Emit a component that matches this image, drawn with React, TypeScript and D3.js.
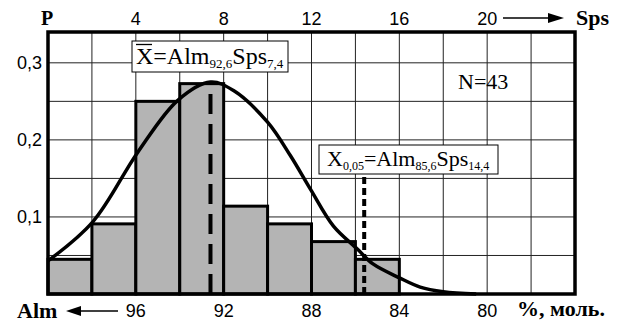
import React from "react";
import * as d3 from "d3";

// Histogram bins (Sps, 2-unit classes) and relative frequencies P
const binStart = [0, 2, 4, 6, 8, 10, 12, 14];
const binP = [0.045, 0.091, 0.25, 0.273, 0.114, 0.091, 0.068, 0.045];
const binWidth = 2;

// Fitted curve
const curveSps = [0, 2.05, 4.09, 5.9, 7.4, 8.45, 10, 11.05, 11.95, 13, 14.1, 14.8, 16, 16.95, 18, 19.5];
const curveP = [0.043, 0.094, 0.184, 0.251, 0.275, 0.264, 0.223, 0.179, 0.136, 0.088, 0.058, 0.039, 0.021, 0.009, 0.003, 0.0];

const topTicks = [4, 8, 12, 16, 20];
const bottomTicks = [96, 92, 88, 84, 80];
const yTicks = [0.1, 0.2, 0.3];
const yTickLabels = ["0,1", "0,2", "0,3"];
const gridX = d3.range(0, 25, 2);
const gridY = [0.05, 0.1, 0.15, 0.2, 0.25, 0.3];

const meanSps = 7.4;
const x005Sps = 14.4;
const nLabel = "N=43";

const SANS = "'Liberation Sans', Arial, sans-serif";
const SERIF = "'Liberation Serif', 'Times New Roman', serif";

export default function App() {
  const left = 48, right = 575, top = 32, bottom = 294;
  const x = d3.scaleLinear().domain([0, 24]).range([left, right]);
  const y = d3.scaleLinear().domain([0, 0.34]).range([bottom, top]);
  const line = d3
    .line<number>()
    .x((_, i) => x(curveSps[i]))
    .y((_, i) => y(curveP[i]))
    .curve(d3.curveCatmullRom.alpha(0.5));
  const curvePath = line(curveP) || "";
  const meanTop = y(0.275);

  return (
    <svg
      width={622}
      height={324}
      style={{ position: "absolute", left: 0, top: 0, background: "#fff" }}
    >
      <rect x={0} y={0} width={622} height={324} fill="#fff" />
      {/* grid */}
      {gridX.map((g) => (
        <line key={"gx" + g} x1={x(g)} x2={x(g)} y1={top} y2={bottom} stroke="#222" strokeWidth={1} />
      ))}
      {gridY.map((g) => (
        <line key={"gy" + g} x1={left} x2={right} y1={y(g)} y2={y(g)} stroke="#222" strokeWidth={1} />
      ))}
      {/* bars */}
      {binStart.map((s, i) => (
        <rect
          key={"b" + i}
          x={x(s)}
          y={y(binP[i])}
          width={x(s + binWidth) - x(s)}
          height={bottom - y(binP[i])}
          fill="#b4b4b4"
          stroke="#000"
          strokeWidth={3}
        />
      ))}
      {/* mean dashed line */}
      <line x1={x(meanSps)} x2={x(meanSps)} y1={bottom} y2={meanTop} stroke="#000" strokeWidth={4} strokeDasharray="20 10" />
      {/* X0.05 dashed line */}
      <line x1={x(x005Sps)} x2={x(x005Sps)} y1={bottom} y2={174} stroke="#000" strokeWidth={4} strokeDasharray="7 4" />
      {/* curve */}
      <path d={curvePath} fill="none" stroke="#000" strokeWidth={3.5} />
      {/* frame */}
      <rect x={left} y={top} width={right - left} height={bottom - top} fill="none" stroke="#000" strokeWidth={3.5} />

      {/* label boxes */}
      <rect x={132} y={41} width={156} height={31} fill="#fff" stroke="#000" strokeWidth={1} />
      <line x1={136} x2={152} y1={44.5} y2={44.5} stroke="#000" strokeWidth={1.3} />
      <text x={136} y={64} fontFamily={SERIF} fontSize={24}>
        <tspan>X=Alm</tspan>
        <tspan fontSize={13} dy={4}>92,6</tspan>
        <tspan dy={-4}>Sps</tspan>
        <tspan fontSize={13} dy={4}>7,4</tspan>
      </text>

      <rect x={319} y={145} width={179} height={29} fill="#fff" stroke="#000" strokeWidth={1} />
      <text x={327} y={166} fontFamily={SERIF} fontSize={22}>
        <tspan>X</tspan>
        <tspan fontSize={12} dy={4}>0,05</tspan>
        <tspan dy={-4}>=Alm</tspan>
        <tspan fontSize={12} dy={4}>85,6</tspan>
        <tspan dy={-4}>Sps</tspan>
        <tspan fontSize={12} dy={4}>14,4</tspan>
      </text>

      <text x={458} y={89} fontFamily={SERIF} fontSize={22}>{nLabel}</text>

      {/* y ticks */}
      {yTicks.map((t, i) => (
        <text key={"yt" + t} x={42} y={y(t) + 6} textAnchor="end" fontFamily={SANS} fontSize={18}>
          {yTickLabels[i]}
        </text>
      ))}
      {/* top ticks */}
      {topTicks.map((t) => (
        <text key={"tt" + t} x={x(t)} y={25} textAnchor="middle" fontFamily={SANS} fontSize={18}>
          {t}
        </text>
      ))}
      {/* bottom ticks */}
      {bottomTicks.map((t) => (
        <text key={"bt" + t} x={x(100 - t)} y={317} textAnchor="middle" fontFamily={SANS} fontSize={18}>
          {t}
        </text>
      ))}

      {/* axis titles */}
      <text x={41} y={25} fontFamily={SERIF} fontWeight="bold" fontSize={20}>P</text>
      <line x1={503} x2={550} y1={18} y2={18} stroke="#000" strokeWidth={1.5} />
      <path d="M548,13 L564,18 L548,23 Z" fill="#000" />
      <text x={576} y={25} fontFamily={SERIF} fontWeight="bold" fontSize={22}>Sps</text>

      <text x={17} y={318} fontFamily={SERIF} fontWeight="bold" fontSize={22}>Alm</text>
      <line x1={78} x2={118} y1={311} y2={311} stroke="#000" strokeWidth={1.5} />
      <path d="M81,306 L66,311 L81,316 Z" fill="#000" />
      <text x={517} y={316} fontFamily={SERIF} fontWeight="bold" fontSize={22}>%, моль.</text>
    </svg>
  );
}
